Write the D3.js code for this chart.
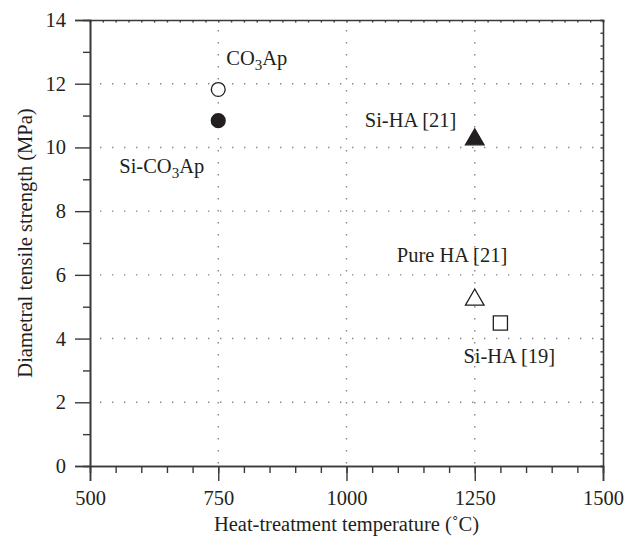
<!DOCTYPE html>
<html>
<head>
<meta charset="utf-8">
<script src="https://cdn.jsdelivr.net/npm/d3@7"></script>
<style>
  body { margin: 0; background: #fff; }
  svg text { font-family: "Liberation Serif", "DejaVu Serif", serif; fill: #231f20; }
</style>
</head>
<body>
<svg id="chart" width="637" height="542"></svg>
<script>
// data
const names = ['CO3Ap', 'Si-CO3Ap', 'Si-HA [21]', 'Pure HA [21]', 'Si-HA [19]']
const temps = [750, 750, 1250, 1250, 1300]
const strengths = [11.82, 10.84, 10.25, 5.22, 4.49]
const shapes = ['circle', 'circle', 'triangle', 'triangle', 'square']
const filled = [false, true, true, false, false]
const xTicks = [500, 750, 1000, 1250, 1500]
const yTicks = [0, 2, 4, 6, 8, 10, 12, 14]

// label offsets in px from the marker (layout only)
const labelDx = [8, -99, -110, -78, -37]
const labelDy = [-24, 52, -12, -38, 40]

const svg = d3.select('#chart')
const margin = {left: 90, right: 34, top: 20, bottom: 76}
const width = 637, height = 542

const x = d3.scaleLinear().domain([500, 1500]).range([margin.left, width - margin.right])
const y = d3.scaleLinear().domain([0, 14]).range([height - margin.bottom, margin.top])

const axisColor = '#3a3a3a'
const fontSize = 20.5

// dotted grid
const grid = svg.append('g')
grid.selectAll('.hg').data(yTicks.filter(d => d > 0 && d < 14)).enter()
    .append('line')
    .attr('x1', x(500) + 10).attr('x2', x(1500))
    .attr('y1', d => y(d)).attr('y2', d => y(d))
    .attr('stroke', '#888').attr('stroke-width', 1.4)
    .attr('stroke-dasharray', '1.4,10.6')
grid.selectAll('.vg').data(xTicks.filter(d => d > 500 && d < 1500)).enter()
    .append('line')
    .attr('x1', d => x(d)).attr('x2', d => x(d))
    .attr('y1', y(14) + 10).attr('y2', y(0))
    .attr('stroke', '#888').attr('stroke-width', 1.4)
    .attr('stroke-dasharray', '1.4,10.6')

// bottom axis
const xAxis = d3.axisBottom(x).tickValues(xTicks).tickSize(15).tickPadding(9).tickFormat(d3.format('d'))
const gx = svg.append('g').attr('transform', `translate(0,${y(0)})`).call(xAxis)
const xMinor = d3.axisBottom(x).tickValues(d3.range(550, 1500, 50)).tickSize(7).tickFormat('')
svg.append('g').attr('transform', `translate(0,${y(0)})`).call(xMinor)

// left axis
const yAxis = d3.axisLeft(y).tickValues(yTicks).tickSize(15).tickPadding(9)
const gy = svg.append('g').attr('transform', `translate(${x(500)},0)`).call(yAxis)
const yMinor = d3.axisLeft(y).tickValues(d3.range(1, 14, 2)).tickSize(7).tickFormat('')
svg.append('g').attr('transform', `translate(${x(500)},0)`).call(yMinor)

// top and right mirrored axes with tiny inward ticks
const xTop = d3.axisTop(x).tickValues(d3.range(500, 1501, 25)).tickSize(-2.5).tickFormat('')
svg.append('g').attr('transform', `translate(0,${y(14)})`).call(xTop)
const yRight = d3.axisRight(y).tickValues(d3.range(0, 14.01, 0.4)).tickSize(-2.5).tickFormat('')
svg.append('g').attr('transform', `translate(${x(1500)},0)`).call(yRight)

svg.selectAll('.domain').attr('stroke', axisColor).attr('stroke-width', 1.6)
svg.selectAll('.tick line').attr('stroke', axisColor).attr('stroke-width', 1.4)
svg.selectAll('.tick text').attr('font-size', fontSize).attr('fill', '#231f20')
gx.selectAll('.tick text').attr('dy', '0.75em')

// axis titles
svg.append('text')
    .attr('x', (x(500) + x(1500)) / 2).attr('y', 531)
    .attr('text-anchor', 'middle').attr('font-size', fontSize)
    .text('Heat-treatment temperature (\u02DAC)')
svg.append('text')
    .attr('transform', `translate(32,${(y(0) + y(14)) / 2}) rotate(-90)`)
    .attr('text-anchor', 'middle').attr('font-size', fontSize)
    .text('Diametral tensile strength (MPa)')

// markers
const pts = names.map((n, i) => ({name: n, t: temps[i], s: strengths[i], shape: shapes[i], filled: filled[i], dx: labelDx[i], dy: labelDy[i]}))

const symbolOf = {circle: d3.symbolCircle, triangle: d3.symbolTriangle, square: d3.symbolSquare}
const sizeOf = {circle: 150, triangle: 150, square: 200}

svg.selectAll('.pt').data(pts).enter()
    .append('path')
    .attr('d', d => d3.symbol().type(symbolOf[d.shape]).size(sizeOf[d.shape])())
    .attr('transform', d => `translate(${x(d.t)},${y(d.s)})`)
    .attr('fill', d => d.filled ? '#231f20' : '#fff')
    .attr('stroke', '#231f20')
    .attr('stroke-width', 1.3)

// labels, with subscript 3 in CO3
const labels = svg.selectAll('.lbl').data(pts).enter()
    .append('text')
    .attr('x', d => x(d.t) + d.dx)
    .attr('y', d => y(d.s) + d.dy)
    .attr('font-size', fontSize)
labels.each(function(d) {
    const t = d3.select(this)
    const parts = d.name.split('3')
    if (parts.length > 1) {
        t.append('tspan').text(parts[0])
        t.append('tspan').attr('font-size', 15).attr('dy', 5).text('3')
        t.append('tspan').attr('dy', -5).text(parts[1])
    } else {
        t.text(d.name)
    }
})
</script>
</body>
</html>
